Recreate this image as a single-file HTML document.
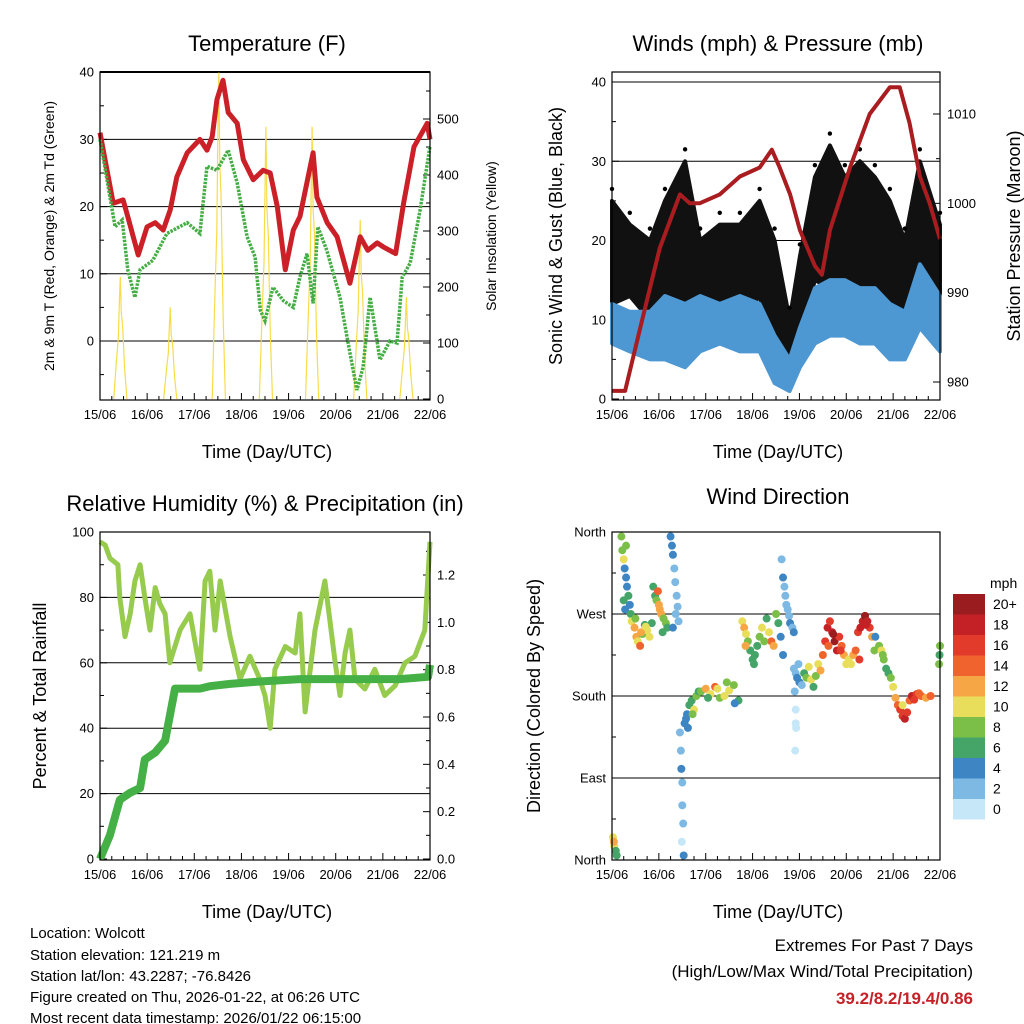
<!DOCTYPE html>
<html><head><meta charset="utf-8"><style>
html,body{margin:0;padding:0;background:#fff;}
svg{display:block;font-family:"Liberation Sans",Arial,sans-serif;}
</style></head><body>
<svg id="s" width="1024" height="1024" viewBox="0 0 1024 1024">
<text x="267" y="51" font-size="22" text-anchor="middle">Temperature (F)</text>
<text x="778" y="51" font-size="22" text-anchor="middle">Winds (mph) &amp; Pressure (mb)</text>
<text x="265" y="511" font-size="22" text-anchor="middle">Relative Humidity (%) &amp; Precipitation (in)</text>
<text x="778" y="504" font-size="22" text-anchor="middle">Wind Direction</text>
<g font-size="18">
<text x="267" y="458" text-anchor="middle">Time (Day/UTC)</text>
<text x="778" y="458" text-anchor="middle">Time (Day/UTC)</text>
<text x="267" y="918" text-anchor="middle">Time (Day/UTC)</text>
<text x="778" y="918" text-anchor="middle">Time (Day/UTC)</text>
<text transform="translate(54,236) rotate(-90)" font-size="14" text-anchor="middle">2m &amp; 9m T (Red, Orange) &amp; 2m Td (Green)</text>
<text transform="translate(496,236) rotate(-90)" font-size="14" text-anchor="middle">Solar Insolation (Yellow)</text>
<text transform="translate(562,236) rotate(-90)" text-anchor="middle">Sonic Wind &amp; Gust (Blue, Black)</text>
<text transform="translate(1020,236) rotate(-90)" text-anchor="middle">Station Pressure (Maroon)</text>
<text transform="translate(46,696) rotate(-90)" text-anchor="middle">Percent &amp; Total Rainfall</text>
<text transform="translate(540,696) rotate(-90)" text-anchor="middle">Direction (Colored By Speed)</text>
</g>
<g font-size="15">
<text x="30" y="938">Location: Wolcott</text>
<text x="30" y="960">Station elevation: 121.219 m</text>
<text x="30" y="981">Station lat/lon: 43.2287; -76.8426</text>
<text x="30" y="1002">Figure created on Thu, 2026-01-22, at 06:26 UTC</text>
<text x="30" y="1023">Most recent data timestamp: 2026/01/22 06:15:00</text>
</g>
<g font-size="17" text-anchor="end">
<text x="973" y="951">Extremes For Past 7 Days</text>
<text x="973" y="977">(High/Low/Max Wind/Total Precipitation)</text>
<text x="973" y="1004" fill="#c62127" font-weight="bold">39.2/8.2/19.4/0.86</text>
</g>
</svg>
<script>
const dayLabels=["15/06","16/06","17/06","18/06","19/06","20/06","21/06","22/06"];
const tempDays=[0,0.28,0.49,0.59,0.81,1.0,1.17,1.34,1.49,1.63,1.85,2.12,2.27,2.38,2.48,2.61,2.72,2.91,3.04,3.25,3.46,3.61,3.76,3.93,4.1,4.24,4.52,4.6,4.82,5.03,5.3,5.52,5.68,5.88,6.01,6.27,6.44,6.66,6.94,7];
const tempVals=[31,20.5,21,18.5,12.8,17,17.6,16.5,19.5,24.4,28,30,28.4,30.4,35.9,38.8,34,32.4,27,24,25.4,25,20,10.6,16.5,18.5,28,21.4,17.6,15.5,8.6,15.5,13.5,14.6,14,13,20.5,28.9,32.4,30];
const tdDays=[0,0.32,0.47,0.59,0.74,0.85,1.12,1.42,1.85,2.12,2.27,2.48,2.72,2.91,3.12,3.29,3.4,3.5,3.67,3.89,4.1,4.24,4.39,4.52,4.62,4.81,5.09,5.24,5.45,5.58,5.73,5.94,6.15,6.3,6.41,6.58,6.79,7];
const tdVals=[30,17,18,10.6,6.5,10.6,12,16,17.6,16,26,25.4,28.4,23.5,15.5,12.5,4.6,3,8,6,5,9.5,13,5.6,17,13.5,6.5,0.6,-7.3,-3.9,6.5,-2.8,0,-0.3,9.5,11.6,19.5,29];
const solarPeakDays=[0.43,1.49,2.52,3.52,4.5,5.52,6.5];
const solarPeakVals=[218,164,600,486,486,320,182];
const presDays=[0,0.28,0.6,1.02,1.45,1.66,1.87,2.3,2.73,3.15,3.41,3.58,3.8,4.01,4.33,4.48,4.65,5.08,5.5,5.93,6.14,6.35,6.57,6.78,7];
const presVals=[979,979,986,995,1001,1000,1000,1001,1003,1004,1006,1004,1001,997,993,992,997,1004,1010,1013,1013,1009,1003,1000,996];
const windDays=[0,0.38,0.81,1.13,1.56,1.88,2.3,2.73,3.15,3.47,3.79,4.01,4.33,4.65,4.97,5.29,5.61,5.93,6.25,6.57,7];
const gustLow=[12,13,10,12,8,10,12,10,13,5,2,8,15,14,12,14,12,10,10,15,10];
const gustHigh=[25,22,20,25,30,20,22,22,25,20,10,18,28,32,28,30,28,25,20,30,22];
const sonicLow=[7,6,5,5,4,6,7,6,6,2,1,4,7,8,8,7,7,5,5,9,6];
const sonicHigh=[12,11,11,13,12,13,12,13,12,8,5,9,14,15,15,14,14,12,11,17,13];
const rhDays=[0,0.11,0.21,0.38,0.42,0.53,0.64,0.74,0.85,0.95,1.06,1.17,1.27,1.38,1.48,1.7,1.91,2.12,2.23,2.33,2.44,2.55,2.76,2.97,3.18,3.39,3.5,3.61,3.71,3.93,4.14,4.24,4.35,4.56,4.77,4.99,5.09,5.2,5.3,5.41,5.62,5.83,6.04,6.26,6.47,6.68,6.89,7];
const rhVals=[97,96,92,90,80,68,75,85,90,80,70,83,78,75,60,70,75,58,85,88,70,85,68,55,62,55,50,40,58,65,63,75,45,70,85,60,50,63,70,55,52,58,50,53,60,62,70,97];
const rainDays=[0,0.21,0.42,0.64,0.85,0.95,1.17,1.38,1.59,2.12,2.33,2.76,3.39,4.24,6.36,6.96,7];
const rainVals=[0,0.1,0.25,0.28,0.3,0.42,0.45,0.5,0.72,0.72,0.73,0.74,0.75,0.76,0.76,0.77,0.82];
const dirDays=[0.02,0.05,0.08,0.1,0.04,
0.2,0.22,0.25,0.27,0.3,0.32,0.35,0.25,0.28,0.38,0.4,0.3,
0.42,0.48,0.52,0.55,0.6,0.65,0.7,0.75,0.8,0.85,0.5,0.62,0.72,
0.88,0.92,0.95,1.0,1.02,1.05,1.1,1.15,1.18,0.98,1.08,
1.25,1.28,1.3,1.33,1.35,1.38,1.4,1.42,1.3,1.36,
1.45,1.47,1.48,1.5,1.5,1.52,1.53,1.49,
1.55,1.6,1.65,1.7,1.75,1.8,1.85,1.62,1.72,1.58,
1.9,2.0,2.1,2.2,2.3,2.4,2.5,2.6,2.7,2.05,2.25,2.45,2.62,
2.78,2.82,2.86,2.9,2.95,3.0,3.03,2.85,
3.05,3.1,3.15,3.2,3.3,3.35,3.4,3.45,3.5,3.55,3.6,3.65,3.25,
3.62,3.65,3.68,3.7,3.72,3.75,3.78,3.8,3.85,3.88,
3.88,3.92,3.95,4.0,4.05,3.9,3.98,
3.92,3.92,3.93,3.91,
4.1,4.15,4.2,4.25,4.3,4.35,4.4,4.45,
4.5,4.55,4.6,4.65,4.7,4.75,4.8,4.85,4.9,4.95,5.0,5.05,4.62,4.72,4.88,
5.1,5.15,5.2,5.25,5.3,5.35,5.4,5.45,5.5,5.55,5.6,5.28,5.42,
5.62,5.7,5.75,5.8,5.85,5.9,5.95,6.0,5.78,
6.05,6.1,6.15,6.2,6.25,6.3,6.35,6.4,6.5,6.6,6.7,6.8,6.2,6.45,6.55,
6.98,6.99,7.0];
const dirVals=[25,15,10,5,20,
355,340,330,320,310,300,290,285,275,280,270,345,
262,255,245,240,235,248,258,252,245,260,265,250,256,
300,290,285,280,275,270,265,260,255,295,250,
355,345,335,320,305,290,278,262,255,270,
140,120,100,85,60,40,5,20,
150,160,170,175,165,180,185,145,160,155,
185,188,182,190,178,180,186,192,175,178,188,195,172,
262,255,248,240,230,220,215,235,
225,235,245,255,265,250,240,235,270,260,245,225,240,
330,310,300,290,280,275,268,260,255,250,
210,205,200,195,192,185,215,
165,150,145,120,
205,200,212,198,190,202,215,208,
225,240,255,262,250,240,230,245,235,225,215,220,235,248,230,
215,225,230,250,255,262,268,262,255,245,230,220,258,
245,235,230,220,210,205,200,190,225,
178,170,165,158,155,162,175,180,182,180,178,180,170,176,183,
215,225,235];
const dirSpeeds=[10,10,7,7,12,
8,9,10,5,4,4,6,6,4,5,7,9,
10,12,12,10,14,8,7,10,10,6,8,12,11,
7,6,8,12,12,13,8,9,6,14,7,
4,4,4,2,2,2,3,2,4,3,
2,2,4,2,2,2,4,1,
4,4,6,6,10,8,6,4,8,4,
8,12,10,14,8,10,10,8,6,6,10,8,4,
10,12,10,8,6,6,6,12,
6,6,8,10,6,10,14,12,8,6,4,4,8,
2,4,2,2,2,2,2,4,2,4,
2,2,4,4,2,2,2,
1,1,1,1,
6,8,10,10,6,8,10,12,
14,16,18,16,18,20,18,16,14,12,10,10,14,20,16,
10,12,14,16,18,18,20,18,16,12,8,16,18,
4,8,10,8,6,6,8,10,8,
12,14,16,16,18,16,14,18,16,14,12,14,10,16,14,
8,6,8];
const cbLabels=["20+","18","16","14","12","10","8","6","4","2","0"];
const cbColors=["#9b1c1f","#c42127","#e23a2b","#f0632f","#f7a645","#e8de5b","#7cbf48","#45a468","#3d85c3","#7eb9e4","#c5e7f8"];

const NS="http://www.w3.org/2000/svg";
const svg=document.getElementById('s');
function mk(tag,attrs,parent){const e=document.createElementNS(NS,tag);for(const k in attrs)e.setAttribute(k,attrs[k]);(parent||svg).appendChild(e);return e;}
function lin(d0,d1,r0,r1){return v=>r0+(v-d0)/(d1-d0)*(r1-r0);}
function pathFrom(xs,ys,fx,fy){return xs.map((d,i)=>(i?'L':'M')+fx(d).toFixed(1)+','+fy(ys[i]).toFixed(1)).join('');}

function frame(name,x0,x1,y0,y1,opts){
  const g=mk('g',{});
  
  
  const fx=lin(0,7,x0,x1);
  opts.gridY.forEach(v=>{const y=opts.fy(v);if(y>y0+1&&y<y1-1)mk('line',{x1:x0,x2:x1,y1:y,y2:y,stroke:'#000','stroke-width':1},g);});
  dayLabels.forEach((l,i)=>{const x=fx(i);mk('line',{x1:x,x2:x,y1:y1,y2:y1-7,stroke:'#000'},g);
    const t=mk('text',{x:x,y:y1+19,'font-size':13,'text-anchor':'middle'},g);t.textContent=l;
    
    if(i<7)for(let k=1;k<4;k++){const xm=fx(i+k/4);mk('line',{x1:xm,x2:xm,y1:y1,y2:y1-4,stroke:'#000'},g);}});
  opts.leftTicks.forEach((v,i)=>{const y=opts.fy(v);mk('line',{x1:x0,x2:x0+7,y1:y,y2:y,stroke:'#000'},g);
    const t=mk('text',{x:x0-6,y:y+4.5,'font-size':13,'text-anchor':'end'},g);t.textContent=opts.leftLabels[i];
    });
  (opts.leftMinor||[]).forEach(v=>{const y=opts.fy(v);if(y>=y0&&y<=y1)mk('line',{x1:x0,x2:x0+4,y1:y,y2:y,stroke:'#000'},g);});
  if(opts.rightTicks){opts.rightTicks.forEach((v,i)=>{const y=opts.fr(v);mk('line',{x1:x1,x2:x1-7,y1:y,y2:y,stroke:'#000'},g);
    const t=mk('text',{x:x1+7,y:y+4.5,'font-size':13},g);t.textContent=opts.rightLabels[i];
    });
    (opts.rightMinor||[]).forEach(v=>{const y=opts.fr(v);if(y>=y0&&y<=y1)mk('line',{x1:x1,x2:x1-4,y1:y,y2:y,stroke:'#000'},g);});}
  return {fx,g};
}
function border(x0,x1,y0,y1,name){const r=mk('rect',{x:x0,y:y0,width:x1-x0,height:y1-y0,fill:'none',stroke:'#000','stroke-width':1.2});}

// Temperature
(function(){
  const x0=100,x1=430,y0=72,y1=400;
  const fy=lin(0,40,341,72.2), fr=lin(0,500,399,119);
  const {fx}=frame('temperature',x0,x1,y0,y1,{fy,fr,gridY:[0,10,20,30,40],leftTicks:[0,10,20,30,40],leftLabels:['0','10','20','30','40'],
    leftMinor:[-5,5,15,25,35],rightTicks:[0,100,200,300,400,500],rightLabels:['0','100','200','300','400','500'],rightMinor:[50,150,250,350,450,550]});
  mk('line',{x1:x0,x2:x1,y1:72,y2:72,stroke:'#000','stroke-width':2});
  solarPeakDays.forEach((d,i)=>{const w=0.14;const xs=[d-w,d-w*0.6,d-w*0.3,d-w*0.1,d,d+w*0.15,d+w*0.35,d+w*0.65,d+w];const pv=solarPeakVals[i];const vs=[0,pv*0.3,pv*0.5,pv*0.85,pv,pv*0.7,pv*0.6,pv*0.25,0];
    const p=mk('path',{d:pathFrom(xs,vs,fx,v=>Math.max(fr(v),72)),fill:'none',stroke:'#f7dc4a','stroke-width':1.2});
    });
  const tl=mk('path',{d:pathFrom(tempDays,tempVals,fx,fy),fill:'none',stroke:'#cc2028','stroke-width':5,'stroke-linejoin':'round'});
  
  const dl=mk('path',{d:pathFrom(tdDays,tdVals,fx,fy),fill:'none',stroke:'#44ad44','stroke-width':3.5,'stroke-dasharray':'2.5 1.2'});
  
  border(x0,x1,y0,y1,'temperature');
})();

// Winds
(function(){
  const x0=612,x1=940,y0=72,y1=400;
  const fy=lin(0,40,399,82), fr=lin(980,1010,382,114);
  const {fx}=frame('winds',x0,x1,y0,y1,{fy,fr,gridY:[10,20,30,40],leftTicks:[0,10,20,30,40],leftLabels:['0','10','20','30','40'],
    leftMinor:[5,15,25,35],rightTicks:[980,990,1000,1010],rightLabels:['980','990','1000','1010'],rightMinor:[985,995,1005]});
  const band=(lo,hi,col,name)=>{const d=pathFrom(windDays,hi,fx,fy)+pathFrom(windDays.slice().reverse(),lo.slice().reverse(),fx,fy).replace('M','L')+'Z';
    const p=mk('path',{d:d,fill:col,stroke:col,'stroke-width':4,'stroke-linejoin':'round'});};
  band(gustLow,gustHigh,'#111','gust-band');
  windDays.forEach((d,i)=>{const c=mk('circle',{cx:fx(d),cy:fy(gustHigh[i]+1.5),r:2.2,fill:'#000'});});
  band(sonicLow,sonicHigh,'#4d97d2','sonic-wind-band');
  const p=mk('path',{d:pathFrom(presDays,presVals,fx,fr),fill:'none',stroke:'#a91c1f','stroke-width':4,'stroke-linejoin':'round'});
  
  border(x0,x1,y0,y1,'winds');
})();

// RH
(function(){
  const x0=100,x1=430,y0=532,y1=860;
  const fy=lin(0,100,859,532), fr=lin(0,1.2,859,575);
  const {fx}=frame('humidity',x0,x1,y0,y1,{fy,fr,gridY:[20,40,60,80],leftTicks:[0,20,40,60,80,100],leftLabels:['0','20','40','60','80','100'],
    leftMinor:[10,30,50,70,90],rightTicks:[0,0.2,0.4,0.6,0.8,1.0,1.2],rightLabels:['0.0','0.2','0.4','0.6','0.8','1.0','1.2'],rightMinor:[0.1,0.3,0.5,0.7,0.9,1.1,1.3]});
  const r=mk('path',{d:pathFrom(rhDays,rhVals,fx,fy),fill:'none',stroke:'#97cb4e','stroke-width':5,'stroke-linejoin':'round'});
  
  const p=mk('path',{d:pathFrom(rainDays,rainVals,fx,fr),fill:'none',stroke:'#45b045','stroke-width':8,'stroke-linejoin':'round'});
  
  border(x0,x1,y0,y1,'humidity');
})();

// Wind direction
(function(){
  const x0=612,x1=940,y0=532,y1=860;
  const fy=lin(0,360,860,532);
  const {fx}=frame('wind-direction',x0,x1,y0,y1,{fy,gridY:[90,180,270],leftTicks:[0,90,180,270,360],leftLabels:['North','East','South','West','North'],leftMinor:[45,135,225,315]});
  const col=s=>cbColors[10-Math.min(10,Math.floor(s/2))];
  dirDays.forEach((d,i)=>{const c=mk('circle',{cx:fx(d),cy:fy(dirVals[i]),r:4,fill:col(dirSpeeds[i])});
    });
  border(x0,x1,y0,y1,'wind-direction');
  const lg=mk('g',{});
  const t=mk('text',{x:990,y:588,'font-size':14},lg);t.textContent='mph';
  cbColors.forEach((c,i)=>{const y=594+i*20.5;mk('rect',{x:953,y:y,width:32,height:20.5,fill:c},lg);
    const tt=mk('text',{x:993,y:y+15,'font-size':14},lg);tt.textContent=cbLabels[i];});
})();
</script>
</body></html>
